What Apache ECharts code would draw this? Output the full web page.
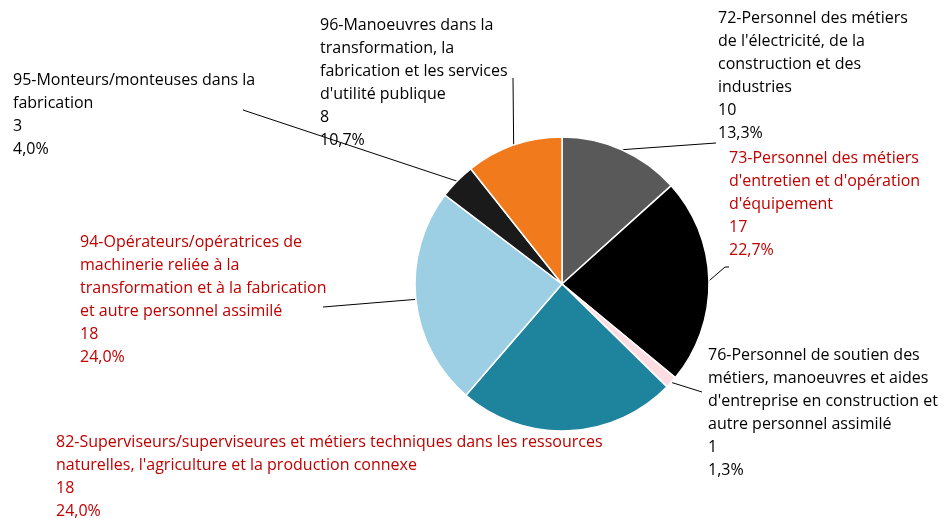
<!DOCTYPE html>
<html>
<head>
<meta charset="utf-8">
<script src="https://cdn.jsdelivr.net/npm/echarts@6/dist/echarts.min.js"></script>
<style>
  html, body { margin: 0; padding: 0; background: #fff; }
  #chart { width: 950px; height: 518px; }
</style>
</head>
<body>
<div id="chart"></div>
<script>
// 数据：类别名称、人数、颜色
const names = [
    "72-Personnel des métiers\nde l'électricité, de la\nconstruction et des\nindustries",
    "73-Personnel des métiers\nd'entretien et d'opération\nd'équipement",
    "76-Personnel de soutien des\nmétiers, manoeuvres et aides\nd'entreprise en construction et\nautre personnel assimilé",
    "82-Superviseurs/superviseures et métiers techniques dans les ressources\nnaturelles, l'agriculture et la production connexe",
    "94-Opérateurs/opératrices de\nmachinerie reliée à la\ntransformation et à la fabrication\net autre personnel assimilé",
    "95-Monteurs/monteuses dans la\nfabrication",
    "96-Manoeuvres dans la\ntransformation, la\nfabrication et les services\nd'utilité publique"
];
const values = [10, 17, 1, 18, 18, 3, 8];
const colors = ['#595959', '#000000', '#fcdde2', '#1e839c', '#9ccfe4', '#1a1a1a', '#f07a1c'];
const labelColors = ['#000', '#c00000', '#000', '#c00000', '#c00000', '#000', '#000'];

// 标签左上角位置
const labelPos = [[718, 7], [729, 147], [708, 344], [56, 431], [80, 231], [13, 69], [320, 14]];
// 引导线在标签一侧的端点（可含一个折点）
const lineEnds = [
    [[716, 143]],
    [[725, 267], [729, 267]],
    [[702, 392]],
    null,
    [[323, 307]],
    [[243, 110]],
    [[513, 78]]
];

const chart = echarts.init(document.getElementById('chart'));

chart.setOption({
    backgroundColor: '#fff',
    animation: false,
    series: [{
        type: 'pie',
        center: [562, 284],
        radius: 147,
        startAngle: 90,
        clockwise: true,
        itemStyle: { borderColor: '#fff', borderWidth: 1.5 },
        label: {
            show: true,
            fontFamily: 'Open Sans',
            fontSize: 16,
            lineHeight: 23,
            overflow: 'none',
            formatter: p => p.name + '\n' + p.value + '\n' + p.percent.toFixed(1).replace('.', ',') + '%'
        },
        labelLine: {
            show: true,
            lineStyle: { color: '#000', width: 1 }
        },
        labelLayout: p => {
            const out = {
                x: labelPos[p.dataIndex][0],
                y: labelPos[p.dataIndex][1],
                align: 'left',
                verticalAlign: 'top'
            };
            const ends = lineEnds[p.dataIndex];
            if (ends && p.labelLinePoints) {
                const pts = [p.labelLinePoints[0]].concat(ends);
                while (pts.length < 3) pts.push(pts[pts.length - 1]);
                out.labelLinePoints = pts;
            }
            return out;
        },
        data: values.map((v, i) => ({
            name: names[i],
            value: v,
            itemStyle: { color: colors[i] },
            label: { color: labelColors[i] },
            labelLine: { show: i !== 3 }
        }))
    }]
});
</script>
</body>
</html>
